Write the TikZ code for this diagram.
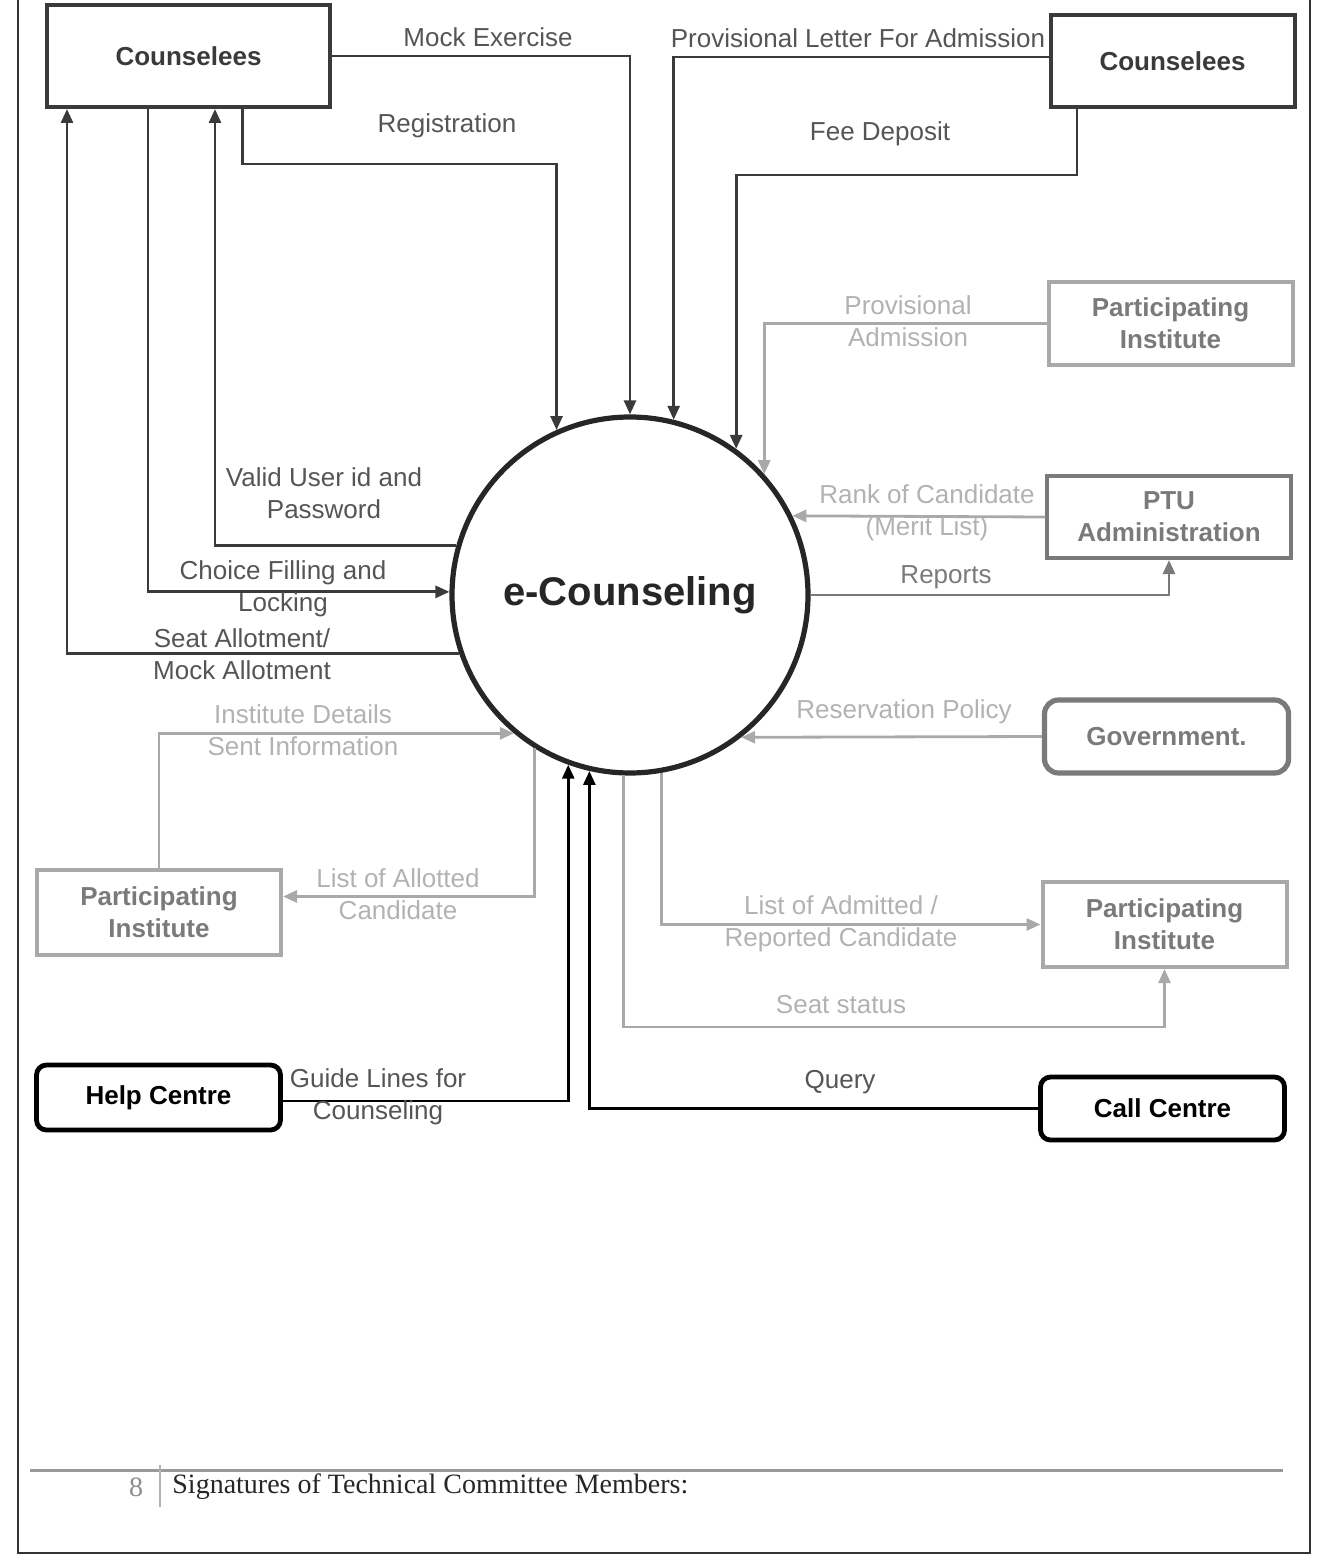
\documentclass[tikz,border=0pt]{standalone}
\usepackage{fontspec}
\setmainfont{Liberation Sans}
\newfontfamily\pagefont{Liberation Serif}
\usetikzlibrary{arrows.meta}
\definecolor{inkdark}{HTML}{3A3A3A}
\definecolor{inkmid}{HTML}{7A7A7A}
\definecolor{inklight}{HTML}{A9A9A9}
\definecolor{txtdark}{HTML}{555555}
\definecolor{txtlight}{HTML}{B2B2B2}
\begin{document}
\begin{tikzpicture}[x=0.5pt,y=-0.5pt,
  entity/.style={draw=inkdark, line width=2pt, minimum width=122pt, align=center,
    text=inkdark, font=\fontsize{13}{16}\selectfont\bfseries},
  lightentity/.style={entity, draw=inklight, text=inkmid},
  desk/.style={entity, draw=black, text=black, rounded corners=5pt, line width=2.4pt},
  flow/.style={line width=1.4pt, -{Triangle[length=7pt,width=6pt]}},
  lbl/.style={align=center, inner sep=0pt, font=\fontsize{13}{16}\selectfont},
  ]
\useasboundingbox (0,0) rectangle (1326,1561);

\node[circle, draw=black!85, line width=2.6pt, minimum size=178pt,
  font=\fontsize{20}{22}\selectfont\bfseries, text=black!85] (ecouns) at (630,595) {e-Counseling};

\node[entity, minimum width=141.5pt, minimum height=51pt] (cl1) at (188.5,56) {Counselees};
\node[entity, minimum height=46pt] (cl2) at (1172.5,61) {Counselees};
\node[lightentity, minimum height=41.5pt] (pi1) at (1170.5,323.5) {Participating\\Institute};
\node[entity, draw=inkmid, text=inkmid, minimum height=41pt] (ptu) at (1169,517) {PTU\\Administration};
\node[entity, draw=inkmid, text=inkmid, rounded corners=7pt, line width=2.6pt, minimum height=36.5pt] (gov) at (1166.5,736.5) {Government.};
\node[lightentity, minimum height=42.5pt] (pi2) at (1164.5,924.5) {Participating\\Institute};
\node[lightentity, minimum height=42.5pt] (pi3) at (159,912.5) {Participating\\Institute};
\node[desk, minimum height=31.5pt] (call) at (1162.5,1108.5) {Call Centre};
\node[desk, minimum height=32.5pt] (help) at (158.5,1097.5) {Help Centre};

\draw[flow, inkdark] (cl1.east) -| (ecouns.north);
\draw[flow, inkdark] ([xshift=27pt]cl1.south) -- ++(0,55) -| (ecouns.114);
\draw[flow, inkdark] ([yshift=2pt]cl2.west) -| (ecouns.76);
\draw[flow, inkdark] ([xshift=-47.75pt]cl2.south) -- ++(0,66) -| (ecouns.54);
\draw[flow, inkdark] (ecouns.164) -| ([xshift=13.25pt]cl1.south);
\draw[flow, inkdark] ([xshift=-20.25pt]cl1.south) |- (ecouns.179);
\draw[flow, inkdark] (ecouns.-161) -| ([xshift=-60.75pt]cl1.south);

\draw[flow, inklight] (pi1.west) -| (ecouns.42);
\draw[flow, inklight] (ptu.west) -- (ecouns.26);
\draw[flow, inkmid] (ecouns.east) -| (ptu.south);
\draw[flow, inklight] (gov.west) -- (ecouns.-52);
\draw[flow, inklight] (ecouns.-80) |- (pi2.west);
\draw[flow, inklight] (ecouns.-92) |- ([yshift=-29pt]pi2.south) -- (pi2.south);
\draw[flow, inklight] (ecouns.-122) |- ([yshift=8pt]pi3.east);
\draw[flow, inklight] (pi3.north) |- (ecouns.-130);

\draw[flow, black] (call.west) -| (ecouns.-103);
\draw[flow, black] ([yshift=-1.75pt]help.east) -| (ecouns.-110);

\node[lbl, text=txtdark] (lbmock) at (488,37) {Mock Exercise};
\node[lbl, text=txtdark] (lbreg) at (447,126) {Registration};
\node[lbl, text=txtdark] (lbletter) at (858,38) {Provisional Letter For Admission};
\node[lbl, text=txtdark] (lbfee) at (880,134) {Fee Deposit};
\node[lbl, text=txtdark] (lbvalid) at (324,493) {Valid User id and\\Password};
\node[lbl, text=txtdark] (lbchoice) at (283,589) {Choice Filling and\\Locking};
\node[lbl, text=txtdark] (lbseat) at (242,654) {Seat Allotment/\\Mock Allotment};
\node[lbl, text=txtlight] (lbprov) at (908,321) {Provisional\\Admission};
\node[lbl, text=txtlight] (lbrank) at (927,513) {Rank of Candidate\\(Merit List)};
\node[lbl, text=inkmid] (lbreports) at (946,577) {Reports};
\node[lbl, text=txtlight] (lbreserve) at (904,712) {Reservation Policy};
\node[lbl, text=txtlight] (lbadmitted) at (841,924) {List of Admitted /\\Reported Candidate};
\node[lbl, text=txtlight] (lbstatus) at (841,1005) {Seat status};
\node[lbl, text=txtlight] (lballotted) at (398,894) {List of Allotted\\Candidate};
\node[lbl, text=txtlight] (lbdetails) at (303,730) {Institute Details\\Sent Information};
\node[lbl, text=txtdark] (lbquery) at (840,1082) {Query};
\node[lbl, text=txtdark] (lbguide) at (378,1097) {Guide Lines for\\Counseling};

\draw[black!80, line width=1pt] (18,0) -- (18,1553) -- (1310,1553) -- (1310,0);
\draw[black!40, line width=1.5pt] (30,1470) -- (1283,1470);
\draw[black!30, line width=1pt] (160,1465) -- (160,1507);
\node[font=\pagefont\fontsize{14}{16}\selectfont, text=black!45] (pageno) at (136,1487) {8};
\node[font=\pagefont\fontsize{14}{16}\selectfont, text=black!85, anchor=west, inner sep=0pt] (sigline) at (172,1487) {Signatures of Technical Committee Members:};
\end{tikzpicture}
\end{document}
